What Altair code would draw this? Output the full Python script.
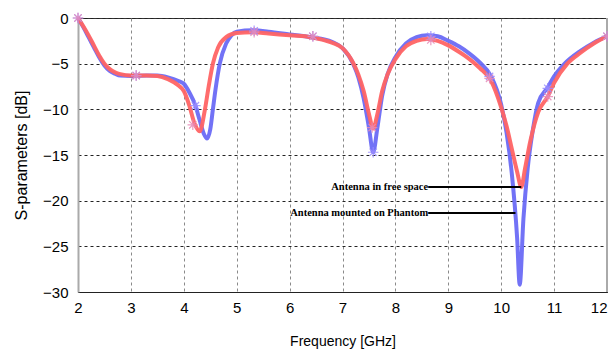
import altair as alt
import pandas as pd

# Antenna in free space (red)
free_x = [2.0, 2.1, 2.2, 2.3, 2.4, 2.5, 2.6, 2.7, 2.8, 3.0, 3.3, 3.5, 3.7, 3.9, 4.0, 4.1, 4.2, 4.3,
          4.4, 4.47, 4.55, 4.65, 4.8, 5.0, 5.3, 5.6, 6.0, 6.4, 6.8, 7.0, 7.2, 7.3, 7.4, 7.5, 7.58,
          7.66, 7.75, 7.85, 8.0, 8.2, 8.4, 8.6, 8.8, 9.0, 9.2, 9.4, 9.6, 9.8, 10.0, 10.1, 10.2, 10.3,
          10.38, 10.45, 10.55, 10.7, 10.88, 11.0, 11.25, 11.5, 11.75, 12.0]
free_y = [0.0, -0.9, -1.9, -3.0, -4.1, -5.0, -5.6, -5.95, -6.15, -6.3, -6.3, -6.35, -6.7, -7.4, -8.0,
          -9.5, -11.5, -12.4, -10.0, -7.5, -5.0, -3.2, -2.1, -1.65, -1.55, -1.7, -1.9, -2.1, -2.7,
          -3.3, -4.9, -6.2, -8.0, -10.5, -12.1, -10.5, -8.0, -6.2, -4.5, -3.1, -2.5, -2.3, -2.5,
          -3.0, -3.7, -4.5, -5.5, -6.8, -9.8, -11.8, -14.3, -16.8, -18.5, -16.5, -13.5, -10.3,
          -8.6, -7.1, -5.0, -3.8, -2.8, -2.0]

# Antenna mounted on Phantom (blue)
ph_x = [2.0, 2.1, 2.2, 2.3, 2.4, 2.5, 2.6, 2.7, 2.8, 3.0, 3.3, 3.5, 3.7, 3.9, 4.0, 4.1, 4.22, 4.3,
        4.38, 4.44, 4.5, 4.55, 4.6, 4.68, 4.8, 4.9, 5.0, 5.3, 5.6, 6.0, 6.4, 6.8, 7.0, 7.2, 7.3,
        7.4, 7.5, 7.58, 7.66, 7.75, 7.85, 8.0, 8.2, 8.4, 8.6, 8.8, 9.0, 9.2, 9.4, 9.6, 9.8, 10.0,
        10.1, 10.2, 10.3, 10.35, 10.42, 10.5, 10.6, 10.7, 10.88, 11.0, 11.2, 11.5, 11.75, 12.0]
ph_y = [0.0, -1.0, -2.1, -3.2, -4.3, -5.2, -5.8, -6.1, -6.3, -6.35, -6.3, -6.3, -6.5, -6.9, -7.2,
        -8.1, -9.6, -11.2, -12.7, -13.2, -12.2, -10.0, -7.8, -5.0, -2.8, -1.9, -1.5, -1.35, -1.5,
        -1.8, -2.1, -2.6, -3.3, -5.0, -6.5, -8.8, -12.0, -14.7, -12.0, -8.5, -6.2, -4.3, -2.8,
        -2.1, -1.9, -2.0, -2.5, -3.1, -3.9, -4.9, -6.3, -9.5, -12.5, -17.0, -24.0, -29.2, -22.0,
        -16.5, -12.2, -9.3, -7.6, -6.4, -5.0, -3.6, -2.7, -2.0]

# star markers
free_mk_x = [2.0, 3.1, 4.17, 5.33, 6.44, 7.56, 8.67, 9.78, 10.88, 12.0]
free_mk_y = [0.0, -6.3, -11.7, -1.55, -2.0, -12.0, -2.4, -6.6, -8.6, -2.0]
ph_mk_x = [2.0, 3.1, 4.22, 5.33, 6.44, 7.58, 8.67, 9.78, 10.88, 12.0]
ph_mk_y = [0.0, -6.3, -9.6, -1.4, -2.0, -14.7, -2.0, -6.4, -7.7, -2.0]

# annotations
ann_text = ["Antenna in free space", "Antenna mounted on Phantom"]
ann_x = [8.62, 8.62]
ann_x2 = [10.38, 10.27]
ann_y = [-18.5, -21.35]

xticks = [2, 3, 4, 5, 6, 7, 8, 9, 10, 11, 12]
yticks = [0, -5, -10, -15, -20, -25, -30]

free_df = pd.DataFrame({"f": free_x, "s": free_y})
ph_df = pd.DataFrame({"f": ph_x, "s": ph_y})
free_mk = pd.DataFrame({"f": free_mk_x, "s": free_mk_y})
ph_mk = pd.DataFrame({"f": ph_mk_x, "s": ph_mk_y})
ann_df = pd.DataFrame({"t": ann_text, "x": ann_x, "x2": ann_x2, "y": ann_y})
border_df = pd.DataFrame({"f": [xticks[-1]]})

xs = alt.Scale(domain=[2, 12], nice=False)
ys = alt.Scale(domain=[-30, 0], nice=False)

X = alt.X("f:Q", scale=xs, axis=alt.Axis(
    values=xticks, title="Frequency [GHz]", grid=True, gridColor="#8a8a8a", gridDash=[3, 3],
    gridWidth=1, ticks=False, labelFontSize=15, labelPadding=8, labelColor="#000",
    labelAlign={"condition": {"test": "datum.value == 12", "value": "right"}, "value": "center"},
    domainColor="#222", titleFontSize=14, titleFontWeight="normal", titlePadding=19,
    titleColor="#000", labelFlush=False, labelBound=False))
Y = alt.Y("s:Q", scale=ys, axis=alt.Axis(
    values=yticks, title="S-parameters [dB]", grid=True, gridColor="#222", gridDash=[3, 3],
    gridWidth=1, ticks=False, labelFontSize=15, labelPadding=10, labelColor="#000",
    domainColor="#aaaaaa", domainWidth=2, titleFontSize=16, titleFontWeight="normal",
    titlePadding=13, titleColor="#000", labelFlush=False))

star = "M-1,0L1,0M0,-1L0,1M-0.7,-0.7L0.7,0.7M-0.7,0.7L0.7,-0.7"

border = alt.Chart(border_df).mark_rule(color="#aaaaaa", strokeWidth=2).encode(x=X)
ph_line = alt.Chart(ph_df).mark_line(color="#6a6af5", strokeWidth=4, interpolate="monotone",
                                      opacity=0.95).encode(x=X, y=Y)
free_line = alt.Chart(free_df).mark_line(color="#ff6464", strokeWidth=4, interpolate="monotone",
                                         opacity=0.95).encode(x=X, y=Y)
ph_pts = alt.Chart(ph_mk).mark_point(shape=star, size=110, stroke="#9a8cff", strokeWidth=1.2,
                                     filled=False, opacity=0.85).encode(x=X, y=Y)
free_pts = alt.Chart(free_mk).mark_point(shape=star, size=110, stroke="#e88ab8", strokeWidth=1.2,
                                         filled=False, opacity=0.85).encode(x=X, y=Y)

ann_rules = alt.Chart(ann_df).mark_rule(color="#000", strokeWidth=2).encode(
    x=alt.X("x:Q", scale=xs), x2="x2:Q", y=alt.Y("y:Q", scale=ys))
ann_texts = alt.Chart(ann_df).mark_text(align="right", baseline="middle", font="Liberation Serif",
                                        fontWeight="bold", fontSize=10.5, color="#000").encode(
    x=alt.X("x:Q", scale=xs), y=alt.Y("y:Q", scale=ys), text="t:N")

chart = alt.layer(ph_line, free_line, border, ph_pts, free_pts, ann_rules, ann_texts).properties(
    width=529, height=274,
    autosize=alt.AutoSizeParams(type="none"),
    padding={"left": 70, "top": 10, "right": 1, "bottom": 61},
).configure(font="Liberation Sans").configure_view(stroke="#333", strokeWidth=1)

chart.save("out.html", embed_options={"renderer": "svg", "actions": False})
